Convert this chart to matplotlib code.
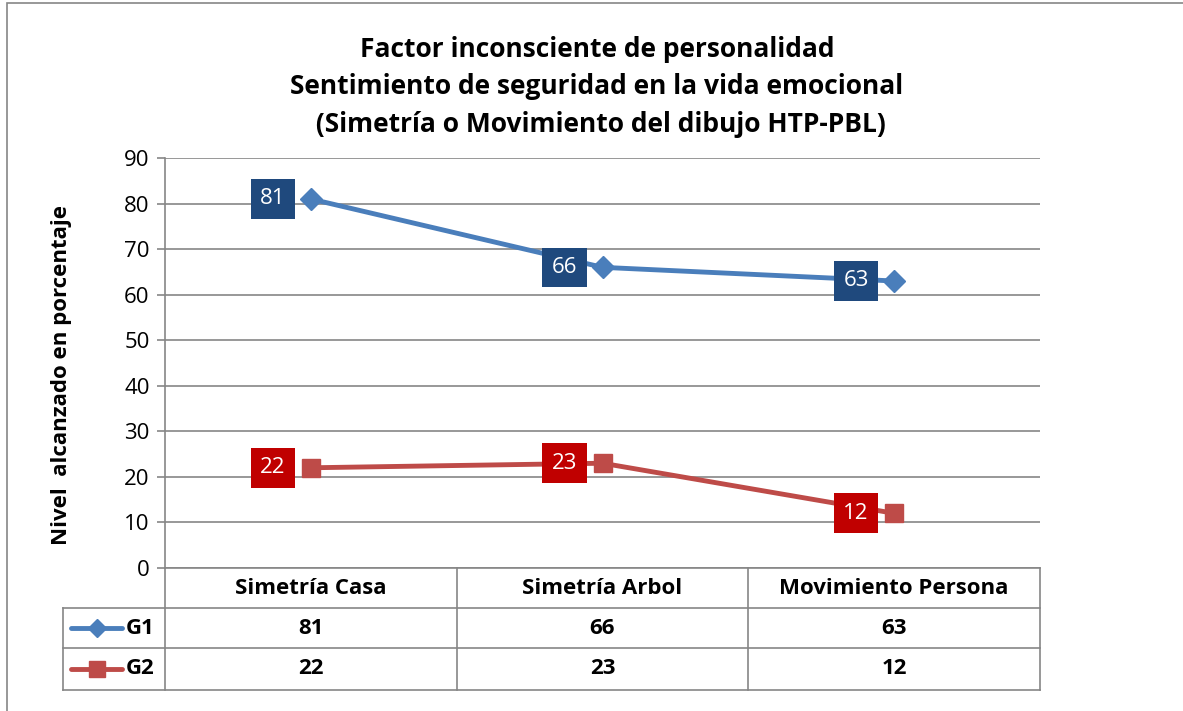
import matplotlib
matplotlib.use("Agg")
import matplotlib.pyplot as plt
from matplotlib.patches import Rectangle
from matplotlib.lines import Line2D

plt.rcParams['font.family'] = ['Open Sans', 'DejaVu Sans']

categories = ["Simetría Casa", "Simetría Arbol", "Movimiento Persona"]
series_names = ["G1", "G2"]
g1 = [81, 66, 63]
g2 = [22, 23, 12]
title = "Factor inconsciente de personalidad\nSentimiento de seguridad en la vida emocional\n (Simetría o Movimiento del dibujo HTP-PBL)"
ylabel = "Nivel  alcanzado en porcentaje"
yticks = [0, 10, 20, 30, 40, 50, 60, 70, 80, 90]

W, H = 1183, 711
fig = plt.figure(figsize=(W / 100, H / 100), dpi=100)
fig.patch.set_facecolor("white")

fig.add_artist(Rectangle((7 / W, -0.01), 1.02, (711 - 3) / H + 0.01, transform=fig.transFigure,
                         fill=False, edgecolor="#868686", linewidth=1.2))

L, R, T, B = 165, 1040, 158, 568
ax = fig.add_axes([L / W, 1 - B / H, (R - L) / W, (B - T) / H])
ax.set_xlim(-0.5, 2.5)
ax.set_ylim(0, 90)
ax.set_yticks(yticks)
ax.set_xticks([])
for s in ["top", "right", "bottom"]:
    ax.spines[s].set_visible(False)
ax.spines["left"].set_color("#868686")
ax.spines["left"].set_linewidth(1.2)
ax.tick_params(axis="y", length=6, color="#868686", width=1.2, labelsize=16, pad=5)
ax.yaxis.grid(True, color="#868686", linewidth=1.2)
ax.set_axisbelow(True)

gridcolor = "#868686"
colors = ["#4A7EBB", "#BE4B48"]
lblcolors = ["#1F497D", "#C00000"]
markers = ["D", "s"]
msizes = [11, 13]
leg_msizes = [9, 11]
data = [g1, g2]
x = list(range(len(categories)))

for vals, c, lc, m, ms in zip(data, colors, lblcolors, markers, msizes):
    ax.plot(x, vals, color=c, linewidth=3.5, marker=m, markersize=ms, zorder=3, clip_on=False)
    for xi, v in zip(x, vals):
        ax.annotate(str(v), (xi, v), xytext=(-38, 0), textcoords="offset pixels",
                    ha="center", va="center", color="white", fontsize=16,
                    bbox=dict(boxstyle="square,pad=0.42", facecolor=lc, edgecolor="none"),
                    zorder=4)

fig.text(597 / W, 1 - 87 / H, title, ha="center", va="center", fontsize=19,
         fontweight="bold", linespacing=1.5)
fig.text(62 / W, 1 - 375 / H, ylabel, rotation=90, ha="center", va="center",
         fontsize=16, fontweight="bold")

hpx = B - T
rows_y = [0, -40 / hpx, -80 / hpx, -122 / hpx]
xl = (63 - L) / (R - L)
lw = 1.2
ax.add_line(Line2D([0, 1], [rows_y[0], rows_y[0]], transform=ax.transAxes, color=gridcolor, lw=lw, clip_on=False))
for yy in rows_y[1:]:
    ax.add_line(Line2D([xl, 1], [yy, yy], transform=ax.transAxes, color=gridcolor, lw=lw, clip_on=False))
for k in range(len(categories) + 1):
    xx = k / len(categories)
    ax.add_line(Line2D([xx, xx], [rows_y[0], rows_y[-1]], transform=ax.transAxes, color=gridcolor, lw=lw, clip_on=False))
ax.add_line(Line2D([xl, xl], [rows_y[1], rows_y[-1]], transform=ax.transAxes, color=gridcolor, lw=lw, clip_on=False))

tr = ax.get_xaxis_transform()
for xi, cat in zip(x, categories):
    ax.text(xi, (rows_y[0] + rows_y[1]) / 2, cat, transform=tr, ha="center", va="center",
            fontsize=16, fontweight="bold", clip_on=False)
for r, (name, vals, c, m, ms) in enumerate(zip(series_names, data, colors, markers, leg_msizes)):
    yc = (rows_y[r + 1] + rows_y[r + 2]) / 2
    for xi, v in zip(x, vals):
        ax.text(xi, yc, str(v), transform=tr, ha="center", va="center",
                fontsize=16, fontweight="bold", clip_on=False)
    x0 = (71 - L) / (R - L)
    x1 = (122 - L) / (R - L)
    ax.add_line(Line2D([x0, x1], [yc, yc], transform=ax.transAxes, color=c, lw=3.5,
                       solid_capstyle="round", clip_on=False))
    ax.add_line(Line2D([(x0 + x1) / 2], [yc], transform=ax.transAxes, color=c, marker=m,
                       markersize=ms, clip_on=False))
    ax.text((126 - L) / (R - L), yc, name, transform=ax.transAxes, ha="left", va="center",
            fontsize=16, fontweight="bold", clip_on=False)

fig.savefig("out.png", dpi=100)
